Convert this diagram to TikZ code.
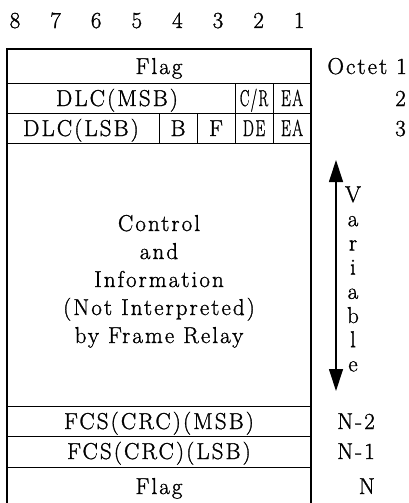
\documentclass[tikz,border=0pt]{standalone}
\usepackage{fontspec}
\setmainfont{Latin Modern Roman}[LetterSpace=9,FakeBold=1.2]
\usetikzlibrary{arrows.meta}
\begin{document}
\begin{tikzpicture}[x=1pt,y=-1pt,
  txt/.style={font=\fontsize{23}{27}\selectfont, inner sep=0pt, anchor=base},
  frame/.style={line width=1.3pt},
  sep/.style={line width=1pt},
  varrow/.style={line width=1.2pt, {Triangle[length=22pt,width=14pt]}-{Triangle[length=22pt,width=14pt]}}]
\useasboundingbox (0,0) rectangle (408,503);
% bit numbers
\foreach \b [count=\i from 0] in {8,7,6,5,4,3,2,1}
  \node[txt] (bit\b) at ({15+40.6*\i},28) {\b};
% frame
\draw[frame] (7,503) -- (7,49) -- (311,49) -- (311,503);
\draw[sep] (7,83) -- (311,83);
\draw[sep] (7,113) -- (311,113);
\draw[sep] (7,143) -- (311,143);
\draw[sep] (7,406) -- (311,406);
\draw[sep] (7,436) -- (311,436);
\draw[sep] (7,467) -- (311,467);
\draw[sep] (235,83) -- (235,143);
\draw[sep] (273,83) -- (273,143);
\draw[sep] (159,113) -- (159,143);
\draw[sep] (197,113) -- (197,143);
% field texts
\node[txt] (flag1) at (159,74) {Flag};
\node[txt] (dlcmsb) at (117,106) {DLC(MSB)};
\node[txt] (cr) at (254,106) {\scalebox{0.62}[1]{C/R}};
\node[txt] (ea1) at (292,106) {\scalebox{0.68}[1]{EA}};
\node[txt] (dlclsb) at (81,136) {DLC(LSB)};
\node[txt] (b) at (178,136) {B};
\node[txt] (f) at (216,136) {F};
\node[txt] (de) at (254,136) {\scalebox{0.68}[1]{DE}};
\node[txt] (ea2) at (292,136) {\scalebox{0.68}[1]{EA}};
\node[txt] (l1) at (159,231) {Control};
\node[txt] (l2) at (159,259) {and};
\node[txt] (l3) at (159,287) {Information};
\node[txt] (l4) at (159,315) {(Not Interpreted)};
\node[txt] (l5) at (159,343) {by Frame Relay};
\node[txt] (fcsm) at (159,429) {FCS(CRC)(MSB)};
\node[txt] (fcsl) at (159,459) {FCS(CRC)(LSB)};
\node[txt] (flag2) at (159,494) {Flag};
% octet labels
\node[txt, anchor=base east] (o1) at (407,74) {Octet 1};
\node[txt, anchor=base east] (o2) at (406,106) {2};
\node[txt, anchor=base east] (o3) at (406,136) {3};
\node[txt, anchor=base east] (on2) at (375,429) {N-2};
\node[txt, anchor=base east] (on1) at (375,459) {N-1};
\node[txt, anchor=base east] (on) at (375,494) {N};
% variable arrow
\coordinate (atop) at (336,160);
\coordinate (abot) at (336,391);
\draw[varrow] (atop) -- (abot);
\foreach \c [count=\i from 0] in {V,a,r,i,a,b,l,e}
  \node[txt] (v\i) at (353,{202+24.2*\i}) {\c};
\end{tikzpicture}
\end{document}
